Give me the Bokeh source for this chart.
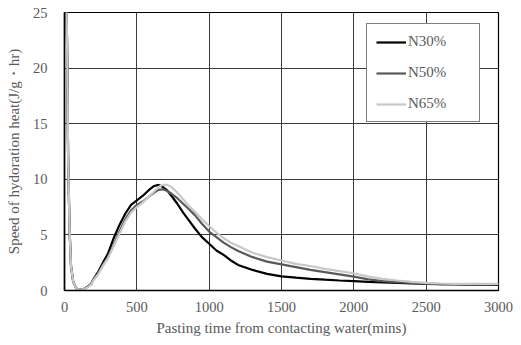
from bokeh.plotting import figure
from bokeh.models import Range1d, Legend, LegendItem, FixedTicker
from bokeh.embed import file_html
from bokeh.resources import INLINE

x_min = [12, 18, 25, 35, 45, 60, 80, 100, 130, 160, 185, 200, 230, 270, 300, 340, 380, 420, 460, 500,
         540, 580, 620, 650, 680, 710, 740, 780, 820, 860, 900, 950, 1000, 1050, 1100, 1150, 1200,
         1300, 1400, 1500, 1600, 1700, 1800, 1900, 2000, 2100, 2200, 2300, 2400, 2500, 2600, 2700,
         2800, 2900, 3000]

n30 = [27, 22, 12, 5.5, 2.2, 0.8, 0.2, 0.05, 0.1, 0.35, 0.6, 1.0, 1.6, 2.6, 3.3, 4.7, 5.9, 6.9, 7.7, 8.1,
       8.5, 9.0, 9.4, 9.5, 9.3, 9.0, 8.5, 7.8, 7.0, 6.3, 5.6, 4.8, 4.2, 3.6, 3.2, 2.7, 2.3,
       1.85, 1.5, 1.27, 1.15, 1.05, 0.97, 0.9, 0.85, 0.78, 0.72, 0.68, 0.64, 0.6, 0.57, 0.55,
       0.53, 0.52, 0.5]

n50 = [27, 22, 12, 5.5, 2.2, 0.8, 0.2, 0.05, 0.1, 0.35, 0.6, 1.0, 1.5, 2.4, 3.0, 4.1, 5.3, 6.4, 7.2, 7.7,
       8.0, 8.4, 8.8, 9.05, 9.1, 8.95, 8.7, 8.3, 7.8, 7.3, 6.8, 6.0, 5.3, 4.8, 4.3, 3.9, 3.55,
       3.0, 2.6, 2.35, 2.1, 1.85, 1.65, 1.45, 1.25, 1.0, 0.85, 0.75, 0.68, 0.62, 0.58, 0.56,
       0.55, 0.55, 0.55]

n65 = [27, 22, 12, 5.5, 2.2, 0.8, 0.2, 0.05, 0.1, 0.3, 0.55, 0.9, 1.4, 2.3, 2.9, 4.0, 5.1, 6.2, 7.0, 7.5,
       7.9, 8.4, 8.9, 9.3, 9.5, 9.5, 9.3, 8.8, 8.2, 7.6, 7.1, 6.4, 5.8, 5.2, 4.7, 4.3, 4.0,
       3.4, 3.0, 2.7, 2.4, 2.2, 1.95, 1.75, 1.55, 1.25, 1.05, 0.9, 0.78, 0.68, 0.63, 0.6,
       0.6, 0.6, 0.6]

series_names = ["N30%", "N50%", "N65%"]
x_ticks = [0, 500, 1000, 1500, 2000, 2500, 3000]
y_ticks = [0, 5, 10, 15, 20, 25]

FONT = "Liberation Serif"
TXT = "#595959"

p = figure(width=521, height=345, output_backend="svg", toolbar_location=None,
           x_range=Range1d(0, 3000), y_range=Range1d(0, 25),
           min_border_left=64, min_border_right=23, min_border_top=12, min_border_bottom=55)

p.outline_line_color = "#000000"
p.outline_line_width = 1.2
p.background_fill_color = "white"
p.border_fill_color = "white"

for ax in (p.xaxis[0], p.yaxis[0]):
    ax.axis_line_color = "#000000"
    ax.axis_line_width = 1.6
    ax.major_tick_line_color = None
    ax.minor_tick_line_color = None
    ax.major_tick_out = 0
    ax.major_tick_in = 0
    ax.major_label_text_font = FONT
    ax.major_label_text_font_size = "14.5px"
    ax.major_label_text_color = TXT
    ax.axis_label_text_font = FONT
    ax.axis_label_text_font_size = "15px"
    ax.axis_label_text_color = TXT
    ax.axis_label_text_font_style = "normal"

p.xaxis.ticker = FixedTicker(ticks=x_ticks)
p.yaxis.ticker = FixedTicker(ticks=y_ticks)
p.xaxis.major_label_standoff = 11
p.yaxis.major_label_standoff = 17
p.xaxis.axis_label = "Pasting time from contacting water(mins)"
p.xaxis.axis_label_standoff = 5
p.yaxis.axis_label = "Speed of hydoration heat(J/g\u30fbhr)"
p.yaxis.axis_label_standoff = 8

p.xgrid.grid_line_color = "#3a3a3a"
p.ygrid.grid_line_color = "#3a3a3a"
p.xgrid.grid_line_width = 1
p.ygrid.grid_line_width = 1

r1 = p.line(x_min, n30, line_color="#000000", line_width=2.2)
r2 = p.line(x_min, n50, line_color="#595959", line_width=2.2)
r3 = p.line(x_min, n65, line_color="#c8c8c8", line_width=2.2)

legend = Legend(items=[LegendItem(label=series_names[0], renderers=[r1]),
                       LegendItem(label=series_names[1], renderers=[r2]),
                       LegendItem(label=series_names[2], renderers=[r3])],
                location=(302, 168), orientation="vertical",
                border_line_color="#000000", border_line_width=1,
                background_fill_color="white", background_fill_alpha=1,
                padding=9, spacing=14, glyph_width=30, glyph_height=8,
                label_height=8, label_width=62, label_standoff=2, margin=0,
                label_text_font=FONT, label_text_font_size="15px", label_text_color=TXT)
p.add_layout(legend, "center")

open("out.html", "w").write(file_html(p, INLINE))
